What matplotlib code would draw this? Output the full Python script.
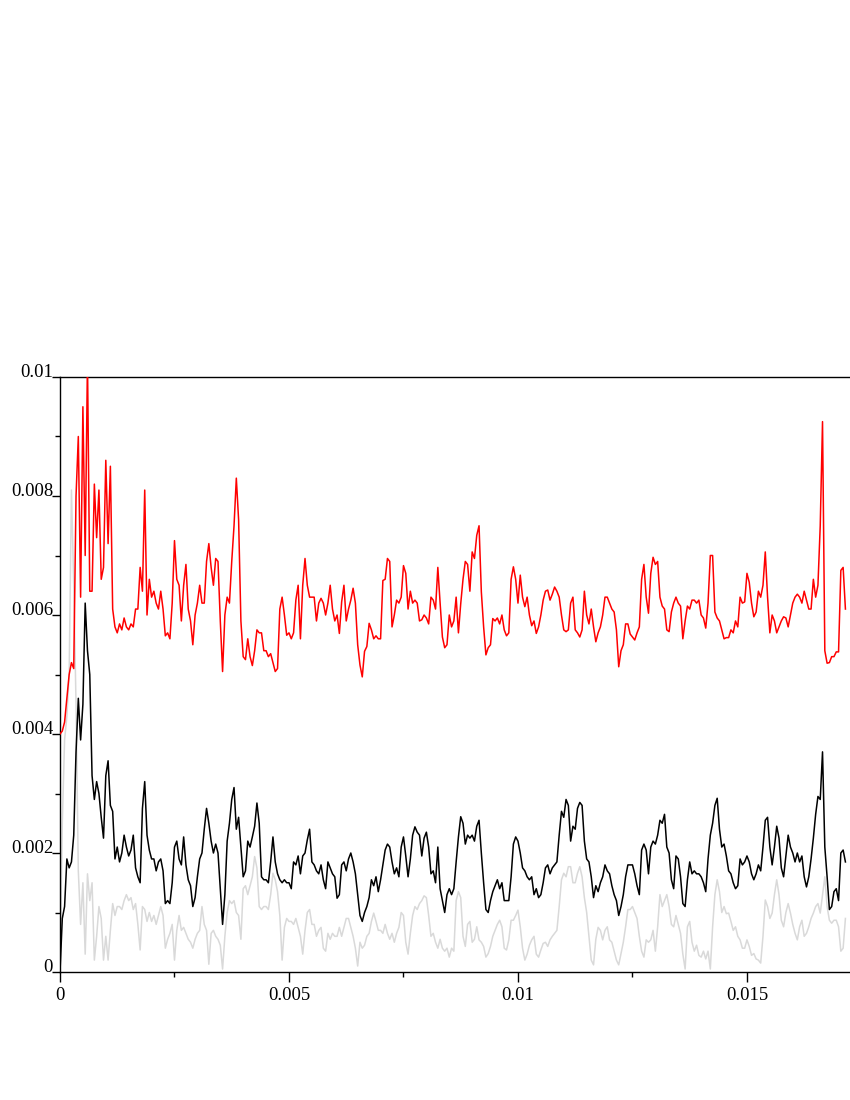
import numpy as np
import matplotlib
matplotlib.use("Agg")
import matplotlib.pyplot as plt
from matplotlib.ticker import MultipleLocator, FixedLocator

# sampling step of the time axis (s)
dt = 5e-5

# values, in units of 1e-3
red_vals = [
    4.0, 4.05, 4.2, 4.6, 5.0, 5.2, 5.1, 8.0, 9.0, 6.3,
    9.5, 7.0, 10.3, 6.4, 6.4, 8.2, 7.3, 8.1, 6.6, 6.8,
    8.6, 7.2, 8.5, 6.1, 5.8, 5.7, 5.85, 5.75, 5.95, 5.8,
    5.75, 5.85, 5.8, 6.1, 6.1, 6.8, 6.4, 8.1, 6.0, 6.6,
    6.3, 6.4, 6.2, 6.1, 6.4, 6.1, 5.65, 5.7, 5.6, 6.2,
    7.25, 6.6, 6.5, 5.9, 6.5, 6.85, 6.1, 5.9, 5.5, 6.0,
    6.2, 6.5, 6.2, 6.2, 6.9, 7.2, 6.8, 6.5, 6.95, 6.9,
    5.9, 5.05, 6.0, 6.3, 6.2, 6.9, 7.5, 8.3, 7.6, 5.9,
    5.3, 5.25, 5.6, 5.3, 5.15, 5.4, 5.75, 5.7, 5.7, 5.4,
    5.4, 5.3, 5.35, 5.2, 5.05, 5.1, 6.1, 6.3, 6.0, 5.66,
    5.7, 5.6, 5.7, 6.25, 6.5, 5.6, 6.5, 6.95, 6.5, 6.3,
    6.3, 6.3, 5.9, 6.2, 6.28, 6.2, 6.0, 6.2, 6.5, 6.1,
    5.9, 6.0, 5.69, 6.22, 6.5, 5.9, 6.1, 6.25, 6.45, 6.2,
    5.5, 5.16, 4.96, 5.39, 5.47, 5.86, 5.75, 5.6, 5.65, 5.6,
    5.6, 6.58, 6.6, 6.95, 6.9, 5.8, 6.0, 6.25, 6.2, 6.3,
    6.83, 6.7, 6.1, 6.4, 6.2, 6.25, 6.2, 5.9, 5.92, 6.0,
    5.95, 5.85, 6.3, 6.25, 6.1, 6.8, 6.2, 5.63, 5.45, 5.5,
    6.0, 5.8, 5.9, 6.3, 5.7, 6.19, 6.6, 6.9, 6.85, 6.4,
    7.06, 6.95, 7.34, 7.5, 6.39, 5.8, 5.33, 5.45, 5.5, 5.94,
    5.9, 5.95, 5.85, 6.0, 5.75, 5.65, 5.7, 6.6, 6.81, 6.6,
    6.2, 6.67, 6.3, 6.14, 6.3, 6.0, 5.82, 5.9, 5.69, 5.8,
    6.0, 6.25, 6.4, 6.42, 6.25, 6.35, 6.47, 6.4, 6.3, 6.0,
    5.75, 5.72, 5.75, 6.2, 6.3, 5.75, 5.7, 5.63, 5.75, 6.4,
    6.0, 5.85, 6.1, 5.8, 5.55, 5.7, 5.8, 6.0, 6.3, 6.3,
    6.2, 6.1, 6.05, 5.75, 5.13, 5.4, 5.5, 5.85, 5.85, 5.68,
    5.63, 5.58, 5.7, 5.8, 6.6, 6.85, 6.3, 6.03, 6.7, 6.97,
    6.85, 6.9, 6.3, 6.15, 6.1, 5.75, 5.72, 6.05, 6.2, 6.3,
    6.2, 6.15, 5.6, 5.9, 6.15, 6.1, 6.25, 6.25, 6.2, 6.25,
    6.0, 5.95, 5.78, 6.2, 7.0, 7.0, 6.05, 5.95, 5.9, 5.75,
    5.6, 5.62, 5.62, 5.75, 5.7, 5.9, 5.8, 6.3, 6.2, 6.22,
    6.7, 6.55, 6.2, 5.97, 6.05, 6.4, 6.3, 6.5, 7.06, 6.3,
    5.7, 6.0, 5.9, 5.7, 5.8, 5.9, 5.97, 5.95, 5.8, 6.0,
    6.2, 6.3, 6.35, 6.3, 6.2, 6.4, 6.25, 6.1, 6.1, 6.6,
    6.3, 6.5, 7.5, 9.25, 5.4, 5.19, 5.2, 5.3, 5.3, 5.38,
    5.38, 6.75, 6.8, 6.1,
]

black_vals = [
    0.0, 0.9, 1.1, 1.9, 1.75, 1.85, 2.3, 3.7, 4.6, 3.9,
    4.5, 6.2, 5.4, 5.0, 3.3, 2.9, 3.2, 3.0, 2.6, 2.25,
    3.3, 3.55, 2.8, 2.7, 1.9, 2.1, 1.85, 2.0, 2.3, 2.1,
    1.95, 2.05, 2.3, 1.75, 1.6, 1.5, 2.75, 3.2, 2.3, 2.05,
    1.9, 1.9, 1.7, 1.85, 1.9, 1.7, 1.15, 1.2, 1.15, 1.5,
    2.1, 2.2, 1.9, 1.8, 2.27, 1.8, 1.55, 1.45, 1.1, 1.25,
    1.6, 1.9, 2.0, 2.4, 2.75, 2.5, 2.2, 2.0, 2.15, 2.0,
    1.4, 0.8, 1.3, 2.2, 2.5, 2.9, 3.1, 2.4, 2.6, 2.1,
    1.6, 1.7, 2.2, 2.1, 2.27, 2.45, 2.84, 2.5, 1.6, 1.55,
    1.55, 1.5, 1.85, 2.27, 1.85, 1.65, 1.55, 1.5, 1.55, 1.5,
    1.5, 1.4, 1.85, 1.8, 1.95, 1.65, 1.95, 2.0, 2.22, 2.4,
    1.85, 1.8, 1.7, 1.65, 1.8, 1.55, 1.4, 1.85, 1.75, 1.65,
    1.6, 1.24, 1.3, 1.8, 1.85, 1.7, 1.9, 2.0, 1.85, 1.65,
    1.3, 0.95, 0.85, 1.0, 1.1, 1.25, 1.55, 1.45, 1.6, 1.35,
    1.55, 1.8, 2.05, 2.15, 2.1, 1.85, 1.65, 1.75, 1.6, 2.1,
    2.27, 1.95, 1.6, 1.9, 2.3, 2.44, 2.35, 2.3, 1.95, 2.25,
    2.35, 2.1, 1.65, 1.7, 1.5, 2.1, 1.4, 1.2, 1.0, 1.3,
    1.4, 1.3, 1.4, 1.85, 2.27, 2.61, 2.5, 2.15, 2.3, 2.25,
    2.3, 2.2, 2.45, 2.55, 2.0, 1.5, 1.05, 1.0, 1.2, 1.35,
    1.45, 1.55, 1.4, 1.5, 1.2, 1.2, 1.2, 1.6, 2.15, 2.27,
    2.2, 2.0, 1.75, 1.7, 1.6, 1.55, 1.6, 1.3, 1.4, 1.25,
    1.3, 1.5, 1.75, 1.8, 1.65, 1.75, 1.8, 1.85, 2.3, 2.7,
    2.6, 2.9, 2.8, 2.2, 2.45, 2.4, 2.75, 2.85, 2.8, 2.2,
    1.9, 1.85, 1.6, 1.25, 1.45, 1.35, 1.5, 1.6, 1.8, 1.7,
    1.65, 1.45, 1.3, 1.2, 0.95, 1.1, 1.3, 1.6, 1.8, 1.8,
    1.8, 1.65, 1.45, 1.3, 2.05, 2.15, 2.05, 1.65, 2.1, 2.2,
    2.15, 2.3, 2.55, 2.5, 2.65, 2.1, 2.0, 1.55, 1.4, 1.95,
    1.9, 1.6, 1.15, 1.1, 1.55, 1.85, 1.65, 1.7, 1.65, 1.65,
    1.6, 1.5, 1.35, 1.9, 2.3, 2.5, 2.8, 2.92, 2.4, 2.1,
    2.15, 1.95, 1.7, 1.65, 1.5, 1.4, 1.45, 1.9, 1.8, 1.85,
    1.95, 1.85, 1.65, 1.55, 1.65, 1.8, 1.7, 2.1, 2.55, 2.6,
    2.1, 1.8, 2.1, 2.45, 2.25, 1.75, 1.6, 1.95, 2.3, 2.1,
    2.0, 1.85, 2.0, 1.85, 1.95, 1.6, 1.43, 1.6, 1.9, 2.25,
    2.65, 2.95, 2.9, 3.7, 2.1, 1.6, 1.05, 1.1, 1.35, 1.4,
    1.2, 2.0, 2.05, 1.85,
]

gray_vals = [
    0.0, 2.5, 3.9, 4.3, 5.0, 8.1, 6.5, 4.5, 1.7, 0.8,
    1.5, 0.3, 1.65, 1.2, 1.5, 0.2, 0.6, 1.1, 0.9, 0.2,
    0.6, 0.2, 0.7, 1.15, 0.95, 1.1, 1.1, 1.05, 1.2, 1.3,
    1.2, 1.25, 1.05, 1.15, 0.8, 0.37, 1.1, 1.05, 0.85, 1.0,
    0.85, 0.95, 0.8, 0.95, 1.1, 0.95, 0.4, 0.55, 0.65, 0.8,
    0.2, 0.7, 0.95, 0.7, 0.75, 0.65, 0.55, 0.5, 0.4, 0.55,
    0.65, 0.7, 1.1, 0.8, 0.7, 0.13, 0.65, 0.7, 0.6, 0.55,
    0.45, 0.05, 0.6, 1.0, 1.2, 1.15, 1.2, 1.0, 0.95, 0.55,
    1.4, 1.45, 1.3, 1.45, 1.6, 1.94, 1.75, 1.1, 1.05, 1.1,
    1.1, 1.05, 1.3, 1.66, 1.55, 1.35, 0.95, 0.2, 0.75, 0.9,
    0.85, 0.85, 0.8, 0.9, 0.75, 0.6, 0.3, 0.7, 1.0, 1.05,
    0.8, 0.8, 0.6, 0.7, 0.75, 0.4, 0.35, 0.65, 0.55, 0.65,
    0.6, 0.6, 0.75, 0.6, 0.75, 0.9, 0.9, 0.75, 0.6, 0.4,
    0.1, 0.5, 0.4, 0.45, 0.6, 0.65, 0.85, 0.99, 0.85, 0.7,
    0.7, 0.65, 0.8, 0.65, 0.55, 0.65, 0.5, 0.65, 0.75, 1.0,
    0.95, 0.5, 0.3, 0.65, 0.95, 1.1, 1.05, 1.15, 1.2, 1.28,
    1.25, 0.95, 0.6, 0.65, 0.5, 0.4, 0.55, 0.4, 0.35, 0.4,
    0.25, 0.4, 0.35, 1.2, 1.35, 1.25, 0.6, 0.43, 0.8, 0.85,
    0.5, 0.55, 0.76, 0.54, 0.5, 0.43, 0.25, 0.31, 0.43, 0.6,
    0.7, 0.8, 0.87, 0.76, 0.4, 0.37, 0.54, 0.87, 0.87, 0.95,
    1.04, 0.76, 0.4, 0.2, 0.3, 0.45, 0.54, 0.6, 0.3, 0.25,
    0.37, 0.48, 0.5, 0.43, 0.54, 0.6, 0.65, 0.7, 1.1, 1.55,
    1.66, 1.6, 1.77, 1.77, 1.5, 1.5, 1.66, 1.77, 1.6, 1.25,
    1.0, 0.6, 0.2, 0.12, 0.55, 0.75, 0.7, 0.54, 0.7, 0.76,
    0.54, 0.5, 0.35, 0.2, 0.12, 0.31, 0.5, 0.76, 1.05, 1.05,
    1.1, 1.0, 0.9, 0.6, 0.35, 0.25, 0.54, 0.5, 0.54, 0.7,
    0.35, 0.76, 1.3, 1.1, 1.2, 1.3, 1.1, 0.8, 0.76, 0.95,
    0.8, 0.65, 0.3, 0.05, 0.76, 0.85, 0.5, 0.35, 0.45, 0.28,
    0.25, 0.35, 0.22, 0.35, 0.05, 0.76, 1.3, 1.55, 1.35, 1.0,
    1.1, 0.98, 0.99, 0.85, 0.7, 0.76, 0.6, 0.54, 0.4, 0.4,
    0.54, 0.43, 0.28, 0.31, 0.22, 0.2, 0.15, 0.6, 1.21, 1.1,
    0.9, 0.99, 1.3, 1.55, 1.3, 0.87, 0.76, 1.0, 1.15, 0.99,
    0.8, 0.65, 0.54, 0.76, 0.87, 0.6, 0.65, 0.76, 0.9, 0.99,
    1.1, 1.15, 0.99, 1.3, 1.6, 1.1, 0.87, 0.82, 0.87, 0.87,
    0.76, 0.35, 0.4, 0.9,
]

x_major = [0, 0.005, 0.01, 0.015]
x_major_labels = ["0", "0.005", "0.01", "0.015"]
y_major = [0, 0.002, 0.004, 0.006, 0.008, 0.01]
y_major_labels = ["0", "0.002", "0.004", "0.006", "0.008", "0.01"]

red = np.array(red_vals) * 1e-3
black = np.array(black_vals) * 1e-3
gray = np.array(gray_vals) * 1e-3
t_red = np.arange(len(red)) * dt
t_black = np.arange(len(black)) * dt
t_gray = np.arange(len(gray)) * dt

plt.rcParams['font.family'] = ['Liberation Serif', 'DejaVu Serif']

fig = plt.figure(figsize=(8.5, 11), dpi=100)
ax = fig.add_axes([60 / 850, 1 - 972 / 1100, 790 / 850, 595 / 1100])

ax.plot(t_gray, gray, color='#d9d9d9', lw=1.1, zorder=2)
ax.plot(t_black, black, color='black', lw=1.1, zorder=3)
ax.plot(t_red, red, color='#ff0000', lw=1.1, zorder=4)

ax.set_xlim(0, 0.01725)
ax.set_ylim(0, 0.01)

for side in ['left', 'bottom', 'top']:
    ax.spines[side].set_linewidth(1.0)
    ax.spines[side].set_color('black')
ax.spines['right'].set_visible(False)

ax.xaxis.set_major_locator(FixedLocator(x_major))
ax.set_xticklabels(x_major_labels)
ax.xaxis.set_minor_locator(MultipleLocator(0.0025))
ax.yaxis.set_major_locator(FixedLocator(y_major))
ax.set_yticklabels(y_major_labels)
ax.yaxis.set_minor_locator(MultipleLocator(0.001))

ax.tick_params(axis='x', which='major', direction='out', length=7, width=1.0,
               labelsize=13.5, pad=3.5, top=False)
ax.tick_params(axis='x', which='minor', direction='out', length=3.5, width=1.0, top=False)
ax.tick_params(axis='y', which='major', direction='out', length=6, width=1.0,
               labelsize=13.5, pad=-1.0, right=False)
ax.tick_params(axis='y', which='minor', direction='out', length=3.5, width=1.0, right=False)

for tk in ax.yaxis.get_major_ticks():
    tk.label1.set_verticalalignment('baseline')

fig.savefig('out.png', dpi=100, facecolor='white')
